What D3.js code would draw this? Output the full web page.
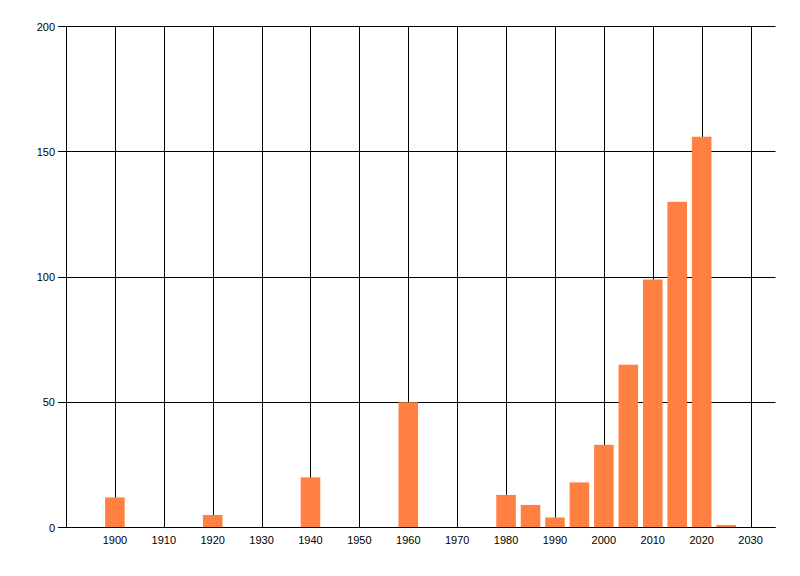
<!DOCTYPE html>
<html>
<head>
<meta charset="utf-8">
<script src="https://cdn.jsdelivr.net/npm/d3@7"></script>
<style>
  html, body { margin: 0; padding: 0; background: #fff; }
  svg { display: block; }
  text { font-family: "Liberation Sans", Arial, sans-serif; font-size: 11px; fill: #000; }
</style>
</head>
<body>
<svg id="chart" width="800" height="576"></svg>
<script>
const years = [1900, 1920, 1940, 1960, 1980, 1985, 1990, 1995, 2000, 2005, 2010, 2015, 2020, 2025];
const counts = [12, 5, 20, 50, 13, 9, 4, 18, 33, 65, 99, 130, 156, 1];
const xTicks = [1900, 1910, 1920, 1930, 1940, 1950, 1960, 1970, 1980, 1990, 2000, 2010, 2020, 2030];
const yTicks = [0, 50, 100, 150, 200];

const svg = d3.select("#chart");
const x = d3.scaleLinear().domain([1890, 2035]).range([66, 775]);
const y = d3.scaleLinear().domain([0, 200]).range([527.5, 26.5]);
const barYears = 4;

// vertical grid
svg.append("g").selectAll("line").data([1890].concat(xTicks)).join("line")
  .attr("x1", d => Math.round(x(d)) + 0.5).attr("x2", d => Math.round(x(d)) + 0.5)
  .attr("y1", y(200)).attr("y2", y(0))
  .attr("stroke", "#000").attr("stroke-width", 1);

// horizontal grid + ticks
svg.append("g").selectAll("line").data(yTicks).join("line")
  .attr("x1", 58).attr("x2", 775.5)
  .attr("y1", d => Math.round(y(d) - 0.5) + 0.5).attr("y2", d => Math.round(y(d) - 0.5) + 0.5)
  .attr("stroke", "#000").attr("stroke-width", 1);

// bars
svg.append("g").selectAll("rect").data(years.map((yr, i) => ({yr, v: counts[i]}))).join("rect")
  .attr("x", d => x(d.yr - barYears / 2))
  .attr("width", d => x(d.yr + barYears / 2) - x(d.yr - barYears / 2))
  .attr("y", d => y(d.v))
  .attr("height", d => y(0) - y(d.v))
  .attr("fill", "#FF8040");

// redraw baseline over bars
svg.append("line").attr("x1", 58).attr("x2", 775.5)
  .attr("y1", Math.round(y(0) - 0.5) + 0.5).attr("y2", Math.round(y(0) - 0.5) + 0.5)
  .attr("stroke", "#000");

// y labels
svg.append("g").selectAll("text").data(yTicks).join("text")
  .attr("x", 55).attr("y", d => y(d) + 4)
  .attr("text-anchor", "end").text(d => d);

// x labels
svg.append("g").selectAll("text").data(xTicks).join("text")
  .attr("x", d => x(d)).attr("y", 544)
  .attr("text-anchor", "middle").text(d => d);
</script>
</body>
</html>
